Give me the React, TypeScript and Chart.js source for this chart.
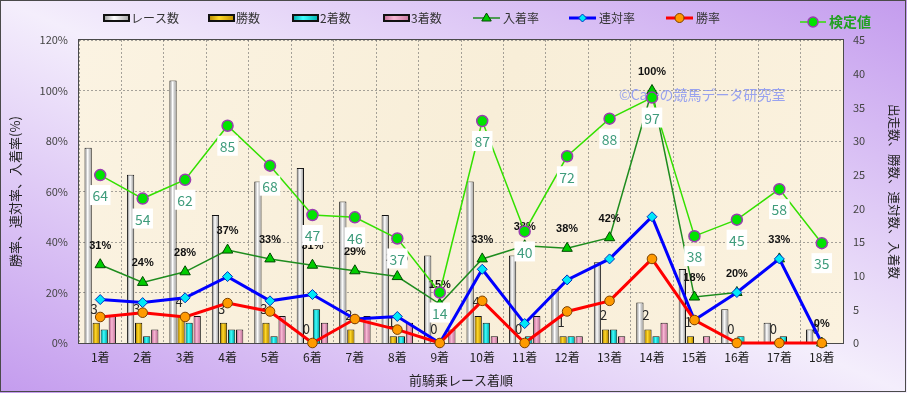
import React, { useEffect, useRef } from 'react';
import { Chart, registerables } from 'chart.js';

Chart.register(...registerables);

const JP = "'Noto Sans CJK JP', 'Noto Sans', sans-serif";

const categories = ['1着', '2着', '3着', '4着', '5着', '6着', '7着', '8着', '9着', '10着', '11着', '12着', '13着', '14着', '15着', '16着', '17着', '18着'];
const raceCounts = [29, 25, 39, 19, 24, 26, 21, 19, 13, 24, 13, 8, 12, 6, 11, 5, 3, 2];
const winCounts = [3, 3, 4, 3, 3, 0, 2, 1, 0, 4, 0, 1, 2, 2, 1, 0, 0, 0];
const secondCounts = [2, 1, 3, 2, 1, 5, 0, 1, 0, 3, 1, 1, 2, 1, 0, 1, 1, 0];
const thirdCounts = [4, 2, 4, 2, 4, 3, 4, 3, 2, 1, 4, 1, 1, 3, 1, 0, 0, 0];
const winRate = [10.3, 12.0, 10.3, 15.8, 12.5, 0, 9.5, 5.3, 0, 16.7, 0, 12.5, 16.7, 33.3, 9.1, 0, 0, 0];
const rentaiRate = [17.2, 16.0, 17.9, 26.3, 16.7, 19.2, 9.5, 10.5, 0, 29.2, 7.7, 25.0, 33.3, 50.0, 9.1, 20.0, 33.3, 0];
const placeRate = [31.0, 24.0, 28.2, 36.8, 33.3, 30.8, 28.6, 26.3, 15.4, 33.3, 38.5, 37.5, 41.7, 100, 18.2, 20.0, 33.3, 0];
const placeRateLabels = ['31%', '24%', '28%', '37%', '33%', '31%', '29%', '26%', '15%', '33%', '38%', '38%', '42%', '100%', '18%', '20%', '33%', '0%'];
const kenteiValues = [64, 54, 62, 85, 68, 47, 46, 37, 14, 87, 40, 72, 88, 97, 38, 45, 58, 35];

const WATERMARK = '©Cafeの競馬データ研究室';

const barShades: Record<string, string[]> = {
  'レース数': ['#9c9c9c', '#ffffff', '#a8a8a8'],
  '勝数': ['#b88a00', '#ffd92a', '#c09000'],
  '2着数': ['#00a8a8', '#40ffff', '#00b0b0'],
  '3着数': ['#c46f98', '#f8b8d4', '#c87aa0'],
};

function shadeFill(ctx: CanvasRenderingContext2D, x: number, w: number, cols: string[]) {
  const g = ctx.createLinearGradient(x, 0, x + w, 0);
  g.addColorStop(0, cols[0]);
  g.addColorStop(0.4, cols[1]);
  g.addColorStop(1, cols[2]);
  return g;
}

function drawMarker(ctx: CanvasRenderingContext2D, kind: string, x: number, y: number, r: number, fill: string, stroke: string, lw: number) {
  ctx.beginPath();
  if (kind === 'triangle') {
    ctx.moveTo(x, y - r);
    ctx.lineTo(x + r * 0.95, y + r * 0.6);
    ctx.lineTo(x - r * 0.95, y + r * 0.6);
    ctx.closePath();
  } else if (kind === 'diamond') {
    ctx.moveTo(x, y - r);
    ctx.lineTo(x + r, y);
    ctx.lineTo(x, y + r);
    ctx.lineTo(x - r, y);
    ctx.closePath();
  } else {
    ctx.arc(x, y, r, 0, Math.PI * 2);
  }
  ctx.fillStyle = fill;
  ctx.fill();
  ctx.lineWidth = lw;
  ctx.strokeStyle = stroke;
  ctx.stroke();
}

const customPlugin = {
  id: 'customLook',
  beforeDraw(chart: any) {
    const { ctx, width, height, chartArea: ca } = chart;
    ctx.save();
    const g = ctx.createLinearGradient(310, 527, 597, -134);
    g.addColorStop(0, '#c49cee');
    g.addColorStop(0.5, '#f4eefc');
    g.addColorStop(1, '#c49cee');
    ctx.fillStyle = g;
    ctx.fillRect(0, 0, width, height);
    const pg = ctx.createLinearGradient(ca.left, ca.top, ca.right, ca.bottom);
    pg.addColorStop(0, '#fbf3e2');
    pg.addColorStop(0.5, '#f8eed8');
    pg.addColorStop(1, '#fbf2df');
    ctx.fillStyle = pg;
    ctx.fillRect(ca.left, ca.top, ca.right - ca.left, ca.bottom - ca.top);
    ctx.restore();
  },
  beforeDatasetsDraw(chart: any) {
    const { ctx, chartArea: ca } = chart;
    ctx.save();
    ctx.strokeStyle = '#4a4a4a';
    ctx.lineWidth = 1;
    ctx.strokeRect(ca.left - 0.5, ca.top - 0.5, ca.right - ca.left + 1, ca.bottom - ca.top + 1);
    ctx.font = `14px ${JP}`;
    ctx.fillStyle = 'rgba(135,148,242,0.85)';
    ctx.textBaseline = 'middle';
    ctx.textAlign = 'left';
    ctx.fillText(WATERMARK, 619, 95);
    ctx.restore();
  },
  afterDatasetDraw(chart: any, args: any) {
    const { ctx } = chart;
    const ds = chart.data.datasets[args.index];
    const meta = args.meta;
    ctx.save();
    if (ds.type === 'bar') {
      const cols = barShades[ds.label];
      meta.data.forEach((el: any) => {
        const h = Math.abs(el.base - el.y);
        if (h < 2) return;
        const left = el.x - el.width / 2;
        const top = Math.min(el.y, el.base);
        ctx.fillStyle = shadeFill(ctx, left + 1, el.width - 2, cols);
        ctx.fillRect(left + 1, top + 1, el.width - 2, h - 1);
      });
      if (ds.label === '勝数') {
        ctx.font = `13px ${JP}`;
        ctx.fillStyle = '#2a2a2a';
        ctx.textAlign = 'center';
        ctx.textBaseline = 'middle';
        meta.data.forEach((el: any, i: number) => {
          ctx.fillText(String(winCounts[i]), el.x - 2, el.y - 14);
        });
      }
    } else if (ds.label === '入着率') {
      ctx.font = `bold 11px 'Liberation Sans', ${JP}`;
      ctx.fillStyle = '#111';
      ctx.textAlign = 'center';
      ctx.textBaseline = 'middle';
      meta.data.forEach((el: any, i: number) => {
        ctx.fillText(placeRateLabels[i], el.x, el.y - 19);
      });
    } else if (ds.label === '検定値') {
      ctx.font = `14px ${JP}`;
      ctx.textAlign = 'center';
      ctx.textBaseline = 'middle';
      meta.data.forEach((el: any, i: number) => {
        const t = String(kenteiValues[i]);
        const w = ctx.measureText(t).width + 5;
        const cy = el.y + 20;
        ctx.fillStyle = '#ffffff';
        ctx.fillRect(el.x - w / 2, cy - 10, w, 20);
        ctx.fillStyle = '#3f9c7c';
        ctx.fillText(t, el.x, cy + 1);
      });
    }
    ctx.restore();
  },
  afterDraw(chart: any) {
    const { ctx } = chart;
    const dsets = chart.data.datasets;
    const byLabel = (l: string) => dsets.find((d: any) => d.label === l);
    ctx.save();
    ctx.textBaseline = 'middle';
    ctx.textAlign = 'left';
    const y = 18;
    const boxItems = [
      { x: 104, label: 'レース数' },
      { x: 209, label: '勝数' },
      { x: 293, label: '2着数' },
      { x: 384, label: '3着数' },
    ];
    ctx.font = `12px ${JP}`;
    boxItems.forEach((b) => {
      const d = byLabel(b.label);
      const cols = barShades[b.label];
      ctx.fillStyle = shadeFill(ctx, b.x, 25, cols);
      ctx.fillRect(b.x, y - 3, 25, 6);
      ctx.strokeStyle = '#111';
      ctx.lineWidth = 2;
      ctx.strokeRect(b.x, y - 3, 25, 6);
      ctx.fillStyle = '#333';
      ctx.fillText(d.label, b.x + 27, y);
    });
    const lineItems = [
      { x: 473, label: '入着率', marker: 'triangle', r: 5 },
      { x: 569, label: '連対率', marker: 'diamond', r: 4 },
      { x: 666, label: '勝率', marker: 'circle', r: 4.5 },
    ];
    lineItems.forEach((it) => {
      const d = byLabel(it.label);
      ctx.strokeStyle = d.borderColor;
      ctx.lineWidth = d.borderWidth;
      ctx.beginPath();
      ctx.moveTo(it.x, y);
      ctx.lineTo(it.x + 27, y);
      ctx.stroke();
      drawMarker(ctx, it.marker, it.x + 13.5, y, it.r, d.pointBackgroundColor, d.pointBorderColor, 1);
      ctx.fillStyle = '#333';
      ctx.font = `12px ${JP}`;
      ctx.fillText(d.label, it.x + 30, y);
    });
    const k = byLabel('検定値');
    const ky = 22;
    ctx.strokeStyle = k.borderColor;
    ctx.lineWidth = 1.5;
    ctx.beginPath();
    ctx.moveTo(800, ky);
    ctx.lineTo(826, ky);
    ctx.stroke();
    drawMarker(ctx, 'circle', 813, ky, 5, k.pointBackgroundColor, k.pointBorderColor, 1.5);
    ctx.font = `bold 14px ${JP}`;
    ctx.fillStyle = '#22a022';
    ctx.fillText(k.label, 829, ky);
    ctx.strokeStyle = '#4a4a4a';
    ctx.lineWidth = 1;
    ctx.strokeRect(0.5, 0.5, 905, 391);
    ctx.restore();
  },
};

export default function App() {
  const ref = useRef<HTMLCanvasElement>(null);
  useEffect(() => {
    document.body.style.margin = '0';
    const canvas = ref.current;
    if (!canvas) return;
    const gridColor = 'rgba(95,95,95,0.55)';
    const chart = new Chart(canvas, {
      data: {
        labels: categories,
        datasets: [
          {
            type: 'line', label: '検定値', data: kenteiValues, yAxisID: 'yK', order: 0,
            borderColor: '#33e000', borderWidth: 1.5, tension: 0,
            pointStyle: 'circle', pointRadius: 5.5, pointBackgroundColor: '#00e400',
            pointBorderColor: '#9a3cb0', pointBorderWidth: 1.5, clip: false,
          } as any,
          {
            type: 'line', label: '勝率', data: winRate, yAxisID: 'y', order: 1,
            borderColor: '#ff0000', borderWidth: 3, tension: 0,
            pointStyle: 'circle', pointRadius: 4.8, pointBackgroundColor: '#ff9a00',
            pointBorderColor: '#7a4000', pointBorderWidth: 1, clip: false,
          },
          {
            type: 'line', label: '連対率', data: rentaiRate, yAxisID: 'y', order: 2,
            borderColor: '#0000ff', borderWidth: 3, tension: 0,
            pointStyle: 'rectRot', pointRadius: 5, pointBackgroundColor: '#00e8f8',
            pointBorderColor: '#0030c0', pointBorderWidth: 1, clip: false,
          },
          {
            type: 'line', label: '入着率', data: placeRate, yAxisID: 'y', order: 3,
            borderColor: '#1e8c1e', borderWidth: 1.5, tension: 0,
            pointStyle: 'triangle', pointRadius: 6, pointBackgroundColor: '#00cc00',
            pointBorderColor: '#004a00', pointBorderWidth: 1, clip: false,
          },
          {
            type: 'bar', label: 'レース数', data: raceCounts, yAxisID: 'y2', order: 4,
            backgroundColor: '#eeeeee', borderColor: '#111', borderWidth: 1,
            categoryPercentage: 0.76, barPercentage: 0.9,
          },
          {
            type: 'bar', label: '勝数', data: winCounts, yAxisID: 'y2', order: 5,
            backgroundColor: '#e8b800', borderColor: '#111', borderWidth: 1,
            categoryPercentage: 0.76, barPercentage: 0.9,
          },
          {
            type: 'bar', label: '2着数', data: secondCounts, yAxisID: 'y2', order: 6,
            backgroundColor: '#00e0e0', borderColor: '#111', borderWidth: 1,
            categoryPercentage: 0.76, barPercentage: 0.9,
          },
          {
            type: 'bar', label: '3着数', data: thirdCounts, yAxisID: 'y2', order: 7,
            backgroundColor: '#e89cc0', borderColor: '#111', borderWidth: 1,
            categoryPercentage: 0.76, barPercentage: 0.9,
          },
        ],
      } as any,
      options: {
        responsive: false,
        animation: false,
        devicePixelRatio: 1,
        layout: { padding: { top: 40, left: 0, right: 0, bottom: 0 } },
        plugins: { legend: { display: false }, tooltip: { enabled: false } },
        scales: {
          x: {
            type: 'category',
            offset: true,
            grid: { display: true, offset: true, color: gridColor, drawTicks: false, lineWidth: 1 },
            border: { display: false, dash: [2, 2] },
            ticks: { color: '#222', font: { family: JP, size: 12 }, padding: 7, maxRotation: 0, autoSkip: false },
            title: { display: true, text: '前騎乗レース着順', color: '#222', font: { family: JP, size: 13 }, padding: { top: 5, bottom: 5 } },
            afterFit: (s: any) => { s.height = 50; },
          },
          y: {
            type: 'linear', position: 'left', min: 0, max: 120,
            grid: { color: gridColor, drawTicks: false, lineWidth: 1 },
            border: { display: false, dash: [2, 2] },
            ticks: { stepSize: 20, padding: 11, color: '#444', font: { family: JP, size: 11 }, callback: (v: any) => v + '%' },
            title: { display: true, text: '勝率、連対率、入着率(%)', color: '#222', font: { family: JP, size: 13 }, padding: { top: 7, bottom: 7 } },
            afterFit: (s: any) => { s.width = 79; },
          },
          y2: {
            type: 'linear', position: 'right', min: 0, max: 45,
            grid: { display: false, drawTicks: false },
            border: { display: false },
            ticks: { stepSize: 5, padding: 10, color: '#444', font: { family: JP, size: 11 } },
            title: { display: true, text: '出走数、勝数、連対数、入着数', color: '#222', font: { family: JP, size: 12.5 }, padding: { top: 6, bottom: 6 } },
            afterFit: (s: any) => { s.width = 64; },
          },
          yK: {
            type: 'linear', display: false, min: -7.5, max: 121.5,
          },
        },
      } as any,
      plugins: [customPlugin],
    });
    return () => chart.destroy();
  }, []);
  return (
    <div style={{ position: 'absolute', left: 0, top: 0, width: 907, height: 393 }}>
      <canvas ref={ref} width={907} height={393} style={{ display: 'block', width: 907, height: 393 }} />
    </div>
  );
}
